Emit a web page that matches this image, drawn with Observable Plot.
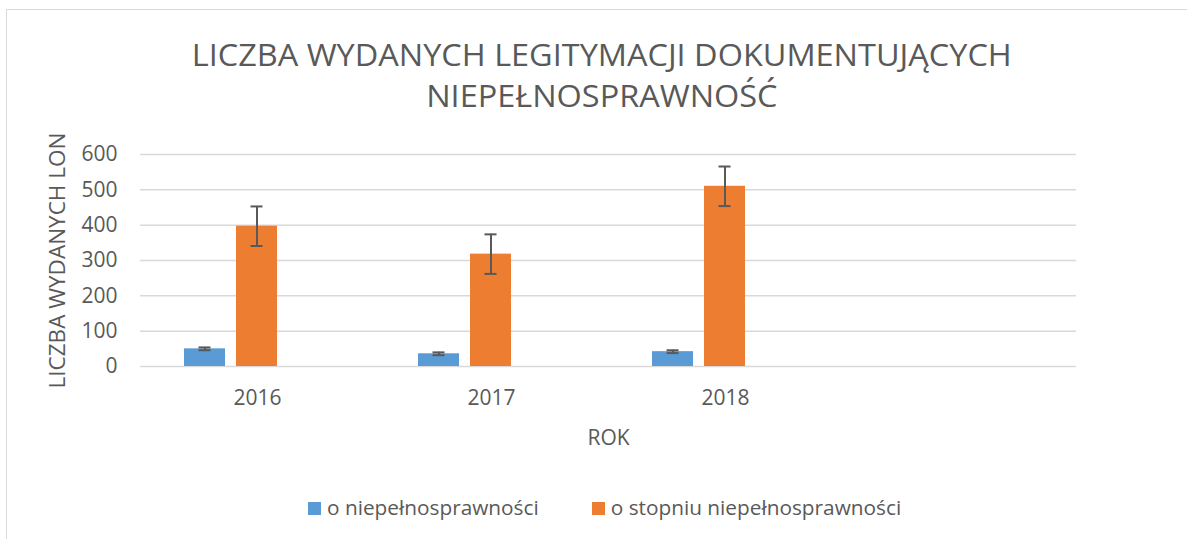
<!DOCTYPE html>
<html>
<head>
<meta charset="utf-8">
<script src="https://cdn.jsdelivr.net/npm/d3@7"></script>
<script src="https://cdn.jsdelivr.net/npm/@observablehq/plot@0.6"></script>
<style>
  html, body { margin: 0; padding: 0; background: #fff; overflow: hidden; }
  #chart { position: relative; width: 1187px; height: 539px; overflow: hidden; font-family: "Open Sans", sans-serif; color: #595959; }
  #frame { position: absolute; left: 6px; top: 9px; width: 1300px; height: 700px; border-left: 1.5px solid #d9d9d9; border-top: 1.5px solid #d9d9d9; }
  .tline { position: absolute; left: 0; width: 1204px; text-align: center; font-size: 31px; line-height: 41px; white-space: nowrap; }
  .tline span { display: inline-block; transform-origin: center; }
  #plot { position: absolute; left: 0; top: 130px; }
  #legend { position: absolute; left: 308px; top: 495px; display: flex; font-size: 20.8px; line-height: 24px; white-space: nowrap; }
  .item { display: flex; align-items: flex-start; margin-right: 53px; }
  .sw { width: 13px; height: 13px; margin-top: 7px; margin-right: 6px; }
</style>
</head>
<body>
<div id="chart">
  <div id="frame"></div>
  <div class="tline" id="t1" style="top:33.5px"><span>LICZBA WYDANYCH LEGITYMACJI DOKUMENTUJĄCYCH</span></div>
  <div class="tline" id="t2" style="top:74.5px"><span>NIEPEŁNOSPRAWNOŚĆ</span></div>
  <div id="plot"></div>
  <div id="legend"></div>
</div>
<script>
// ---- data ----
const years = ["2016", "2017", "2018"];
const categories = ["2016", "2017", "2018", ""];      // the source range has a 4th, empty category
const seriesNames = ["o niepełnosprawności", "o stopniu niepełnosprawności"];
const seriesSlots = ["o niepełnosprawności", "o stopniu niepełnosprawności", " "]; // 3rd series slot is empty
const seriesColors = ["#5b9bd5", "#ed7d31"];
const valuesA = [50, 36, 42];        // o niepełnosprawności
const valuesB = [397, 318, 510];     // o stopniu niepełnosprawności
const errA = [4, 4, 4];              // error bar half-lengths
const errB = [56, 56, 56];
const yTicks = [0, 100, 200, 300, 400, 500, 600];
const yLabel = "LICZBA WYDANYCH LON";
const xLabel = "ROK";

const data = [];
years.forEach((yr, i) => {
  data.push({year: yr, series: seriesNames[0], value: valuesA[i], err: errA[i]});
  data.push({year: yr, series: seriesNames[1], value: valuesB[i], err: errB[i]});
});
// gridlines, one set per category band (so the empty 4th band gets them too)
const grid = categories.flatMap(c => yTicks.map(t => ({cat: c, t})));

const chart = Plot.plot({
  width: 1187,
  height: 330,
  marginLeft: 140,
  marginRight: 111,
  marginTop: 24,
  marginBottom: 94,
  style: {fontFamily: "'Open Sans', sans-serif", fontSize: "21px", color: "#595959", background: "transparent", overflow: "visible"},
  fx: {domain: categories, paddingInner: 0, paddingOuter: 0, label: xLabel, labelAnchor: "center", labelOffset: 78, tickSize: 0, tickPadding: 24},
  x: {domain: seriesSlots, paddingInner: 0.21, paddingOuter: 0.85, axis: null},
  y: {domain: [0, 600], ticks: yTicks, tickSize: 0, tickPadding: 23, label: yLabel, labelArrow: "none", labelAnchor: "center", labelOffset: 91, tickFormat: d => String(d)},
  color: {domain: seriesNames, range: seriesColors},
  marks: [
    Plot.ruleY(grid, {fx: "cat", y: "t", stroke: "#d9d9d9", strokeWidth: 1.5}),
    Plot.barY(data, {fx: "year", x: "series", y: "value", fill: "series"}),
    Plot.ruleX(data, {fx: "year", x: "series", y1: d => d.value - d.err, y2: d => d.value + d.err, stroke: "#595959", strokeWidth: 2}),
    Plot.tickY(data, {fx: "year", x: "series", y: d => d.value + d.err, stroke: "#595959", strokeWidth: 2, insetLeft: 14.5, insetRight: 14.5}),
    Plot.tickY(data, {fx: "year", x: "series", y: d => d.value - d.err, stroke: "#595959", strokeWidth: 2, insetLeft: 14.5, insetRight: 14.5})
  ]
});
// y-axis title is set a little larger than the tick labels
d3.select(chart).selectAll('[aria-label="y-axis label"]').style("font-size", "22.5px");
document.getElementById("plot").appendChild(chart);

// legend
const legend = document.getElementById("legend");
seriesNames.forEach((name, i) => {
  const item = document.createElement("div");
  item.className = "item";
  const sw = document.createElement("div");
  sw.className = "sw";
  sw.style.background = seriesColors[i];
  const tx = document.createElement("span");
  tx.textContent = name;
  item.appendChild(sw);
  item.appendChild(tx);
  legend.appendChild(item);
});

// fit title width to the reference's condensed face
const s1 = document.querySelector("#t1 span");
const s2 = document.querySelector("#t2 span");
const k = 820 / s1.getBoundingClientRect().width;
s1.style.transform = `scaleX(${k})`;
s2.style.transform = `scaleX(${k})`;
</script>
</body>
</html>
